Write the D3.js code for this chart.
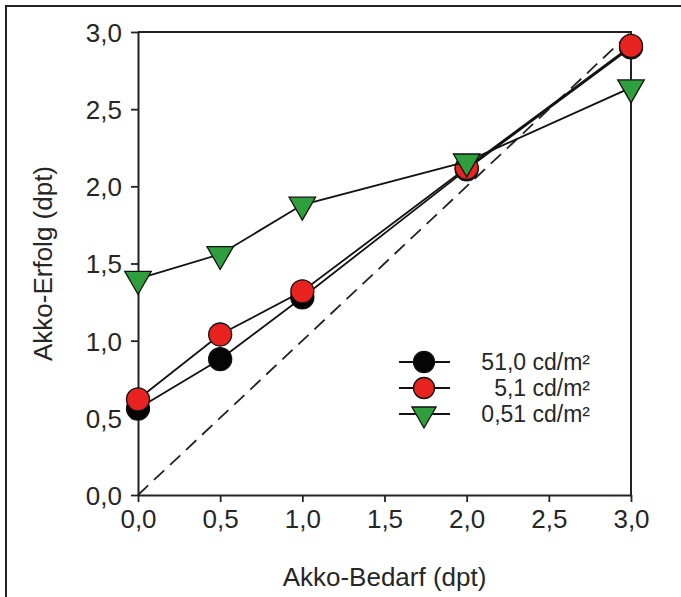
<!DOCTYPE html>
<html><head><meta charset="utf-8">
<script src="https://cdn.jsdelivr.net/npm/d3@7"></script>
<style>body{margin:0;background:#fff}svg{display:block;font-family:"Liberation Sans",Arial,sans-serif}</style>
</head><body><svg id="c" width="681" height="597"></svg>
<script>
const xCats = [0, 0.5, 1, 2, 3];
const s51 = [0.56, 0.88, 1.28, 2.11, 2.90];
const s5 = [0.62, 1.04, 1.32, 2.12, 2.91];
const s05 = [1.40, 1.56, 1.88, 2.16, 2.64];
const tickVals = [0, 0.5, 1, 1.5, 2, 2.5, 3];
const seriesNames = ["51,0 cd/m²", "5,1 cd/m²", "0,51 cd/m²"];

const svg = d3.select("#c");
const x = d3.scaleLinear().domain([0,3]).range([138,631]);
const y = d3.scaleLinear().domain([0,3]).range([495,32]);
const fmt = d => d3.format(".1f")(d).replace(".", ",");
const ink = "#262626";

// outer frame (left & top)
svg.append("path").attr("d","M6,597V6H681").attr("fill","none").attr("stroke","#222").attr("stroke-width",2);

// axes
const gx = svg.append("g").attr("transform","translate(0,495)").call(d3.axisBottom(x).tickValues(tickVals).tickFormat(fmt).tickSize(7).tickSizeOuter(0));
const gy = svg.append("g").attr("transform","translate(138,0)").call(d3.axisLeft(y).tickValues(tickVals).tickFormat(fmt).tickSize(7).tickSizeOuter(0));
[gx,gy].forEach(g=>{g.select(".domain").attr("stroke","#222").attr("stroke-width",2);g.selectAll("line").attr("stroke","#222").attr("stroke-width",1.8);g.selectAll("text").attr("font-size",26).attr("fill",ink).attr("font-family","Liberation Sans, Arial, sans-serif");});
gx.selectAll("text").attr("y",0).attr("dy",0).attr("transform","translate(0,33)");
gy.selectAll("text").attr("x",-16).attr("dy","0.36em");
// top & right frame
svg.append("path").attr("d",`M${x(0)},${y(3)}H${x(3)}V${y(0)}`).attr("fill","none").attr("stroke","#222").attr("stroke-width",2);

// identity dashed line
svg.append("line").attr("x1",x(0)).attr("y1",y(0)).attr("x2",x(3)).attr("y2",y(3)).attr("stroke","#222").attr("stroke-width",1.8).attr("stroke-dasharray","14,8");

const line = d3.line().x((d,i)=>x(xCats[i])).y(d=>y(d));
const series = [
  {vals:s51, fill:"#050505", kind:"c"},
  {vals:s5, fill:"#e8231f", kind:"c"},
  {vals:s05, fill:"#2f9e3c", kind:"t"}
];
function marker(g, kind, fill, cx, cy, r){
  if(kind==="c") g.append("circle").attr("cx",cx).attr("cy",cy).attr("r",r).attr("fill",fill).attr("stroke","#111").attr("stroke-width",1.3);
  else g.append("path").attr("d",d3.symbol().type(d3.symbolTriangle).size(r*r*2.3)()).attr("transform",`translate(${cx},${cy}) rotate(180)`).attr("fill",fill).attr("stroke","#111").attr("stroke-width",1.3);
}
series.forEach(s=>{
  const g = svg.append("g");
  g.append("path").attr("d",line(s.vals)).attr("fill","none").attr("stroke","#111").attr("stroke-width",1.8);
  s.vals.forEach((v,i)=>marker(g,s.kind,s.fill,x(xCats[i]),y(v),11.5));
});

// legend
const legY = [362, 388, 414];
series.forEach((s,i)=>{
  const g = svg.append("g");
  g.append("line").attr("x1",399).attr("x2",450).attr("y1",legY[i]).attr("y2",legY[i]).attr("stroke","#111").attr("stroke-width",1.8);
  marker(g,s.kind,s.fill,424,legY[i],10.5);
  g.append("text").attr("x",590).attr("y",legY[i]).attr("dy","0.36em").attr("text-anchor","end").attr("font-size",23).attr("fill",ink).text(seriesNames[i]);
});

// axis titles
svg.append("text").attr("x",x(1.5)).attr("y",586).attr("text-anchor","middle").attr("font-size",26).attr("fill",ink).text("Akko-Bedarf (dpt)");
svg.append("text").attr("transform",`translate(52,${y(1.5)}) rotate(-90)`).attr("text-anchor","middle").attr("font-size",26).attr("fill",ink).text("Akko-Erfolg (dpt)");
</script></body></html>
